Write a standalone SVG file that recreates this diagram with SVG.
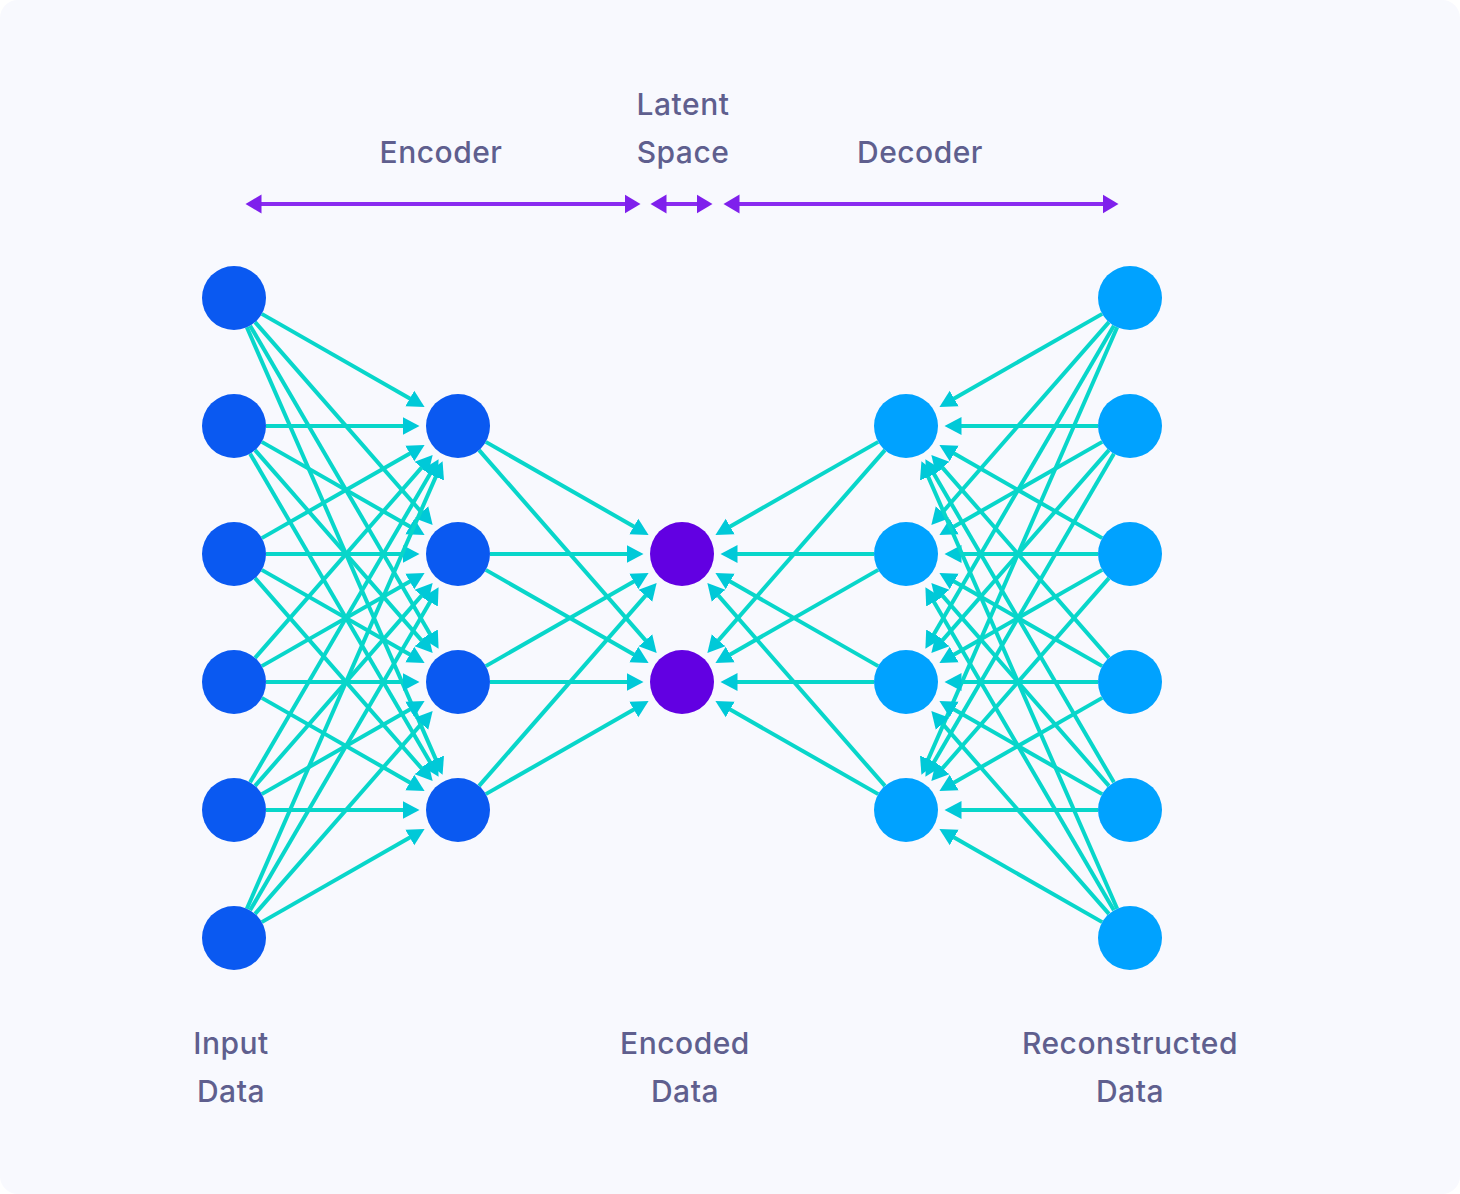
<svg xmlns="http://www.w3.org/2000/svg" width="1460" height="1194" viewBox="0 0 1460 1194">
<defs>
<style>
.lbl{font-family:Inter,"Liberation Sans",sans-serif;font-size:30px;font-weight:500;fill:#5F5F8E;text-anchor:middle;letter-spacing:0.5px}
.e{stroke:#08D6CA;stroke-width:4;fill:none;marker-end:url(#ah)}
.p{stroke:#8A2BF0;stroke-width:4;fill:none;marker-start:url(#ph);marker-end:url(#ph)}
.in{fill:#0A59F1}
.lat{fill:#6200E2}
.out{fill:#00A2FF}
</style>
<marker id="ah" markerUnits="userSpaceOnUse" viewBox="0 -10 20 20" markerWidth="20" markerHeight="20" refX="0.5" refY="0" orient="auto"><path d="M0,-9 L17,0 L0,9 Z" fill="#00C9D8"/></marker>
<marker id="ph" markerUnits="userSpaceOnUse" viewBox="0 -10 20 20" markerWidth="20" markerHeight="20" refX="0.5" refY="0" orient="auto-start-reverse"><path d="M0,-9.5 L16,0 L0,9.5 Z" fill="#7F20EC"/></marker>
</defs>
<rect x="0" y="0" width="1460" height="1194" fill="#FFFFFF"/>
<rect x="0" y="0" width="1460" height="1194" rx="18" fill="#F8F9FE"/>

<g id="labels">
<text class="lbl" x="441" y="163">Encoder</text>
<text class="lbl" x="683" y="115">Latent</text>
<text class="lbl" x="683" y="163">Space</text>
<text class="lbl" x="920" y="163">Decoder</text>
<text class="lbl" x="231" y="1054">Input</text>
<text class="lbl" x="231" y="1102">Data</text>
<text class="lbl" x="685" y="1054">Encoded</text>
<text class="lbl" x="685" y="1102">Data</text>
<text class="lbl" x="1130" y="1054">Reconstructed</text>
<text class="lbl" x="1130" y="1102">Data</text>
</g>

<g id="span-arrows">
<line class="p" x1="261" y1="204" x2="625" y2="204"/>
<line class="p" x1="666" y1="204" x2="697" y2="204"/>
<line class="p" x1="739" y1="204" x2="1103" y2="204"/>
</g>

<g id="connectors">
<!-- encoder: input -> hidden -->
<line class="e" x1="261.78" y1="313.88" x2="410.25" y2="398.71"/>
<line class="e" x1="255.07" y1="322.08" x2="421.78" y2="512.61"/>
<line class="e" x1="250.12" y1="325.64" x2="430.29" y2="634.49"/>
<line class="e" x1="246.83" y1="327.32" x2="435.96" y2="759.61"/>
<line class="e" x1="266" y1="426" x2="403" y2="426"/>
<line class="e" x1="261.78" y1="441.88" x2="410.25" y2="526.71"/>
<line class="e" x1="255.07" y1="450.08" x2="421.78" y2="640.61"/>
<line class="e" x1="250.12" y1="453.64" x2="430.29" y2="762.49"/>
<line class="e" x1="261.78" y1="538.12" x2="410.25" y2="453.29"/>
<line class="e" x1="266" y1="554" x2="403" y2="554"/>
<line class="e" x1="261.78" y1="569.88" x2="410.25" y2="654.71"/>
<line class="e" x1="255.07" y1="578.08" x2="421.78" y2="768.61"/>
<line class="e" x1="255.07" y1="657.92" x2="421.78" y2="467.39"/>
<line class="e" x1="261.78" y1="666.12" x2="410.25" y2="581.29"/>
<line class="e" x1="266" y1="682" x2="403" y2="682"/>
<line class="e" x1="261.78" y1="697.88" x2="410.25" y2="782.71"/>
<line class="e" x1="250.12" y1="782.36" x2="430.29" y2="473.51"/>
<line class="e" x1="255.07" y1="785.92" x2="421.78" y2="595.39"/>
<line class="e" x1="261.78" y1="794.12" x2="410.25" y2="709.29"/>
<line class="e" x1="266" y1="810" x2="403" y2="810"/>
<line class="e" x1="246.83" y1="908.68" x2="435.96" y2="476.39"/>
<line class="e" x1="250.12" y1="910.36" x2="430.29" y2="601.51"/>
<line class="e" x1="255.07" y1="913.92" x2="421.78" y2="723.39"/>
<line class="e" x1="261.78" y1="922.12" x2="410.25" y2="837.29"/>
<!-- encoder hidden -> latent -->
<line class="e" x1="485.78" y1="441.88" x2="634.25" y2="526.71"/>
<line class="e" x1="479.07" y1="450.08" x2="645.78" y2="640.61"/>
<line class="e" x1="490" y1="554" x2="627" y2="554"/>
<line class="e" x1="485.78" y1="569.88" x2="634.25" y2="654.71"/>
<line class="e" x1="485.78" y1="666.12" x2="634.25" y2="581.29"/>
<line class="e" x1="490" y1="682" x2="627" y2="682"/>
<line class="e" x1="479.07" y1="785.92" x2="645.78" y2="595.39"/>
<line class="e" x1="485.78" y1="794.12" x2="634.25" y2="709.29"/>
<!-- decoder hidden -> latent -->
<line class="e" x1="878.22" y1="441.88" x2="729.75" y2="526.71"/>
<line class="e" x1="884.93" y1="450.08" x2="718.22" y2="640.61"/>
<line class="e" x1="874" y1="554" x2="737" y2="554"/>
<line class="e" x1="878.22" y1="569.88" x2="729.75" y2="654.71"/>
<line class="e" x1="878.22" y1="666.12" x2="729.75" y2="581.29"/>
<line class="e" x1="874" y1="682" x2="737" y2="682"/>
<line class="e" x1="884.93" y1="785.92" x2="718.22" y2="595.39"/>
<line class="e" x1="878.22" y1="794.12" x2="729.75" y2="709.29"/>
<!-- output -> decoder hidden -->
<line class="e" x1="1102.22" y1="313.88" x2="953.75" y2="398.71"/>
<line class="e" x1="1108.93" y1="322.08" x2="942.22" y2="512.61"/>
<line class="e" x1="1113.88" y1="325.64" x2="933.71" y2="634.49"/>
<line class="e" x1="1117.17" y1="327.32" x2="928.04" y2="759.61"/>
<line class="e" x1="1098" y1="426" x2="961" y2="426"/>
<line class="e" x1="1102.22" y1="441.88" x2="953.75" y2="526.71"/>
<line class="e" x1="1108.93" y1="450.08" x2="942.22" y2="640.61"/>
<line class="e" x1="1113.88" y1="453.64" x2="933.71" y2="762.49"/>
<line class="e" x1="1102.22" y1="538.12" x2="953.75" y2="453.29"/>
<line class="e" x1="1098" y1="554" x2="961" y2="554"/>
<line class="e" x1="1102.22" y1="569.88" x2="953.75" y2="654.71"/>
<line class="e" x1="1108.93" y1="578.08" x2="942.22" y2="768.61"/>
<line class="e" x1="1108.93" y1="657.92" x2="942.22" y2="467.39"/>
<line class="e" x1="1102.22" y1="666.12" x2="953.75" y2="581.29"/>
<line class="e" x1="1098" y1="682" x2="961" y2="682"/>
<line class="e" x1="1102.22" y1="697.88" x2="953.75" y2="782.71"/>
<line class="e" x1="1113.88" y1="782.36" x2="933.71" y2="473.51"/>
<line class="e" x1="1108.93" y1="785.92" x2="942.22" y2="595.39"/>
<line class="e" x1="1102.22" y1="794.12" x2="953.75" y2="709.29"/>
<line class="e" x1="1098" y1="810" x2="961" y2="810"/>
<line class="e" x1="1117.17" y1="908.68" x2="928.04" y2="476.39"/>
<line class="e" x1="1113.88" y1="910.36" x2="933.71" y2="601.51"/>
<line class="e" x1="1108.93" y1="913.92" x2="942.22" y2="723.39"/>
<line class="e" x1="1102.22" y1="922.12" x2="953.75" y2="837.29"/>
</g>

<g id="input-layer">
<circle id="in1" class="in" cx="234" cy="298" r="32"/>
<circle id="in2" class="in" cx="234" cy="426" r="32"/>
<circle id="in3" class="in" cx="234" cy="554" r="32"/>
<circle id="in4" class="in" cx="234" cy="682" r="32"/>
<circle id="in5" class="in" cx="234" cy="810" r="32"/>
<circle id="in6" class="in" cx="234" cy="938" r="32"/>
</g>
<g id="encoder-hidden">
<circle id="enc1" class="in" cx="458" cy="426" r="32"/>
<circle id="enc2" class="in" cx="458" cy="554" r="32"/>
<circle id="enc3" class="in" cx="458" cy="682" r="32"/>
<circle id="enc4" class="in" cx="458" cy="810" r="32"/>
</g>
<g id="latent">
<circle id="lat1" class="lat" cx="682" cy="554" r="32"/>
<circle id="lat2" class="lat" cx="682" cy="682" r="32"/>
</g>
<g id="decoder-hidden">
<circle id="dec1" class="out" cx="906" cy="426" r="32"/>
<circle id="dec2" class="out" cx="906" cy="554" r="32"/>
<circle id="dec3" class="out" cx="906" cy="682" r="32"/>
<circle id="dec4" class="out" cx="906" cy="810" r="32"/>
</g>
<g id="output-layer">
<circle id="out1" class="out" cx="1130" cy="298" r="32"/>
<circle id="out2" class="out" cx="1130" cy="426" r="32"/>
<circle id="out3" class="out" cx="1130" cy="554" r="32"/>
<circle id="out4" class="out" cx="1130" cy="682" r="32"/>
<circle id="out5" class="out" cx="1130" cy="810" r="32"/>
<circle id="out6" class="out" cx="1130" cy="938" r="32"/>
</g>
</svg>
